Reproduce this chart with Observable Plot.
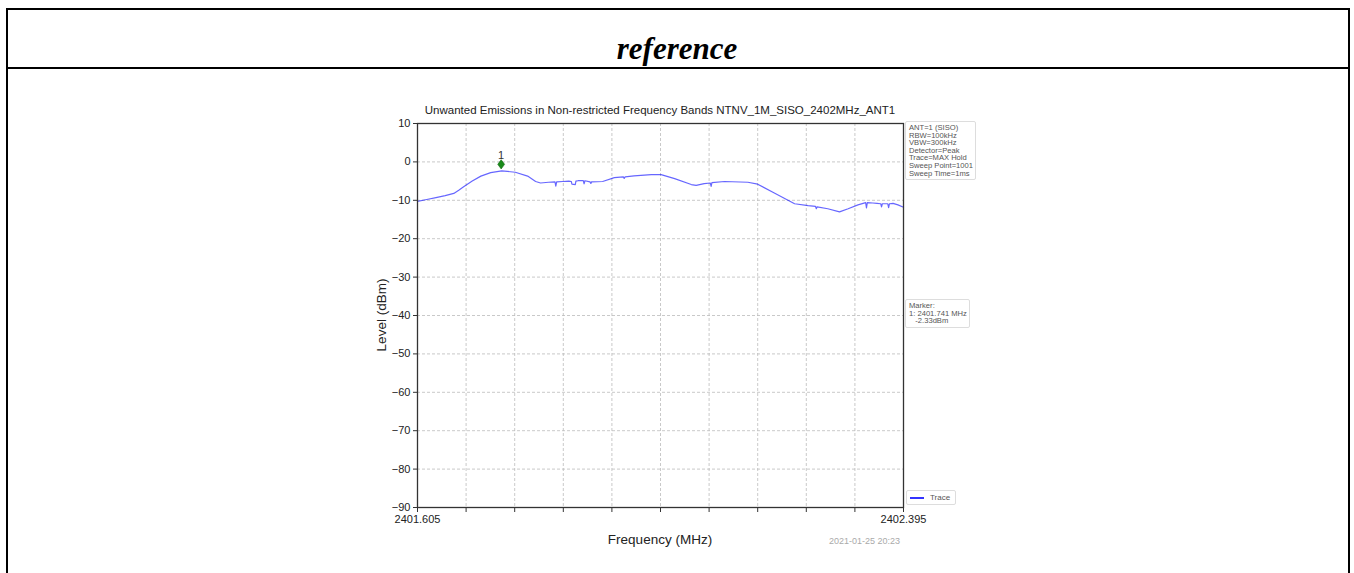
<!DOCTYPE html>
<html>
<head>
<meta charset="utf-8">
<script src="https://cdn.jsdelivr.net/npm/d3@7"></script>
<script src="https://cdn.jsdelivr.net/npm/@observablehq/plot@0.6"></script>
<style>
  body { margin: 0; background: #fff; font-family: "Liberation Sans", Arial, sans-serif; }
  #wrap { position: relative; width: 1354px; height: 573px; overflow: hidden; background: #fff; }
  .abs { position: absolute; white-space: pre; }
  #frame { position: absolute; left: 6px; top: 8px; width: 1340px; height: 700px; border: 2px solid #000; }
  #sep { position: absolute; left: 6px; top: 67px; width: 1344px; height: 2px; background: #000; }
  #hdr { position: absolute; left: 0; width: 1354px; top: 31px; text-align: center;
         font-family: "Liberation Serif", "Times New Roman", serif; font-style: italic; font-weight: bold; font-size: 31px; line-height: 36px; }
  #chart { position: absolute; left: 360px; top: 90px; }
  .box { position: absolute; border: 1px solid #ddd; border-radius: 2px; background: #fff;
         font-size: 7.6px; line-height: 7.6px; color: #555; padding: 2px 3px; white-space: pre; }
</style>
</head>
<body>
<div id="wrap">
  <div id="frame"></div>
  <div id="sep"></div>
  <div id="hdr">reference</div>
  <div id="chart"></div>
</div>
<script>
// ---- data ----
const chartTitle = "Unwanted Emissions in Non-restricted Frequency Bands NTNV_1M_SISO_2402MHz_ANT1";
const xLabel = "Frequency (MHz)";
const yLabel = "Level (dBm)";
const timestamp = "2021-01-25 20:23";

const freqMHz = [2401.605, 2401.620, 2401.635, 2401.650, 2401.664, 2401.672, 2401.680, 2401.694, 2401.708, 2401.724,
  2401.742, 2401.764, 2401.784, 2401.797, 2401.805, 2401.818, 2401.8285, 2401.8298, 2401.8312, 2401.841,
  2401.851, 2401.855, 2401.856, 2401.8615, 2401.8625, 2401.866, 2401.870, 2401.8745, 2401.8758, 2401.8772,
  2401.8855, 2401.8868, 2401.888, 2401.906, 2401.925, 2401.9395, 2401.941, 2401.9425, 2401.957, 2401.985,
  2402.001, 2402.023, 2402.050, 2402.058, 2402.071, 2402.0810, 2402.0823, 2402.0836, 2402.104, 2402.142,
  2402.158, 2402.185, 2402.218, 2402.240, 2402.2520, 2402.2533, 2402.2546, 2402.272, 2402.291, 2402.305,
  2402.321, 2402.3335, 2402.3348, 2402.3362, 2402.345, 2402.352, 2402.3580, 2402.3593, 2402.3606, 2402.367,
  2402.3695, 2402.3708, 2402.3721, 2402.378, 2402.386, 2402.395];
const levelDBm = [-10.3, -9.8, -9.3, -8.8, -8.2, -7.4, -6.5, -5.0, -3.7, -2.8,
  -2.33, -2.7, -3.7, -5.1, -5.5, -5.3, -5.2, -6.3, -5.2, -5.1,
  -5.0, -5.1, -5.8, -5.9, -5.0, -4.9, -4.9, -4.9, -5.7, -4.9,
  -5.2, -5.6, -5.2, -5.1, -4.1, -3.9, -4.3, -3.9, -3.65, -3.3,
  -3.3, -4.35, -5.9, -6.1, -5.65, -5.5, -6.4, -5.4, -5.1, -5.3,
  -5.8, -8.1, -10.9, -11.4, -11.6, -12.2, -11.7, -12.2, -13.0, -12.2,
  -11.2, -10.6, -12.0, -10.6, -10.7, -10.8, -10.9, -11.7, -10.9, -10.9,
  -10.9, -11.9, -10.9, -10.8, -11.2, -11.8];

const markerFreq = [2401.741];
const markerLevel = [-2.33];
const markerName = ["1"];

const xTicks = [2401.605, 2401.684, 2401.763, 2401.842, 2401.921, 2402.000, 2402.079, 2402.158, 2402.237, 2402.316, 2402.395];
const xTickLabels = ["2401.605", "", "", "", "", "", "", "", "", "", "2402.395"];
const yTicks = [10, 0, -10, -20, -30, -40, -50, -60, -70, -80, -90];

const infoLines = ["ANT=1 (SISO)", "RBW=100kHz", "VBW=300kHz", "Detector=Peak", "Trace=MAX Hold", "Sweep Point=1001", "Sweep Time=1ms"];
const markerLines = ["Marker:", "1: 2401.741 MHz", "   -2.33dBm"];
const legendLabel = ["Trace"];

// ---- build ----
const trace = freqMHz.map((f, i) => ({f, level: levelDBm[i]}));
const markers = markerFreq.map((f, i) => ({f, level: markerLevel[i], name: markerName[i]}));

const thinDiamond = {
  draw(ctx, size) {
    const w = 3.4, h = 4.6;
    ctx.moveTo(0, -h); ctx.lineTo(w, 0); ctx.lineTo(0, h); ctx.lineTo(-w, 0); ctx.closePath();
  }
};

const W = 630, H = 480;
const plot = Plot.plot({
  width: W, height: H,
  marginLeft: 57, marginRight: 87, marginTop: 33, marginBottom: 63,
  style: {fontFamily: "Liberation Sans, Arial, sans-serif", color: "#222", background: "transparent"},
  x: {domain: [2401.605, 2402.395]},
  y: {domain: [-90, 10]},
  marks: [
    Plot.gridX(xTicks, {stroke: "#bbb", strokeOpacity: 1, strokeDasharray: "3,2", strokeWidth: 0.8}),
    Plot.gridY(yTicks, {stroke: "#bbb", strokeOpacity: 1, strokeDasharray: "3,2", strokeWidth: 0.8}),
    Plot.axisX(xTicks, {tickFormat: (d, i) => xTickLabels[i], tickSize: 5, tickPadding: 3, fontSize: 11, label: null, stroke: "#333"}),
    Plot.axisY(yTicks, {tickSize: 4, tickPadding: 3, fontSize: 11, label: null, stroke: "#333", tickFormat: d => d < 0 ? "\u2212" + Math.abs(d) : String(d)}),
    Plot.line(trace, {x: "f", y: "level", stroke: "blue", strokeOpacity: 0.6, strokeWidth: 1.2}),
    Plot.dot(markers, {x: "f", y: "level", symbol: thinDiamond, r: 4, fill: "#1a8a1a", stroke: "#0f6a0f", strokeWidth: 0.6, dy: -6.5}),
    Plot.text(markers, {x: "f", y: "level", text: "name", dy: -15.5, fontSize: 11, fill: "#333"}),
    Plot.frame({stroke: "#333", strokeWidth: 1.3})
  ]
});
document.getElementById("chart").appendChild(plot);

const wrap = document.getElementById("wrap");
function addText(txt, css) {
  const d = document.createElement("div");
  d.className = "abs";
  d.textContent = txt;
  Object.assign(d.style, css);
  wrap.appendChild(d);
  return d;
}
// title
addText(chartTitle, {left: "417px", width: "486px", top: "104px", textAlign: "center", fontSize: "11.5px", color: "#222"});
// y label (rotated)
addText(yLabel, {left: "381px", top: "315px", fontSize: "13.5px", color: "#222", transform: "translate(-50%,-50%) rotate(-90deg)"});
// x label
addText(xLabel, {left: "417px", width: "486px", top: "532px", textAlign: "center", fontSize: "13.5px", color: "#222"});
// timestamp
addText(timestamp, {left: "829px", top: "536px", fontSize: "9px", color: "#aaa"});

// info boxes
const info = document.createElement("div");
info.className = "box";
Object.assign(info.style, {left: "905px", top: "121px", width: "63px"});
info.textContent = infoLines.join("\n");
wrap.appendChild(info);

const mk = document.createElement("div");
mk.className = "box";
Object.assign(mk.style, {left: "905px", top: "299px", width: "57px"});
mk.textContent = markerLines.join("\n");
wrap.appendChild(mk);

// legend
const lg = document.createElement("div");
lg.className = "box";
Object.assign(lg.style, {left: "906px", top: "490px", width: "42px", height: "11px", padding: "1px 3px", lineHeight: "11px", fontSize: "8px"});
lg.innerHTML = '<span style="display:inline-block;width:14px;height:1.5px;background:#3333ff;vertical-align:middle;margin-right:6px;"></span>' + legendLabel[0];
wrap.appendChild(lg);
</script>
</body>
</html>
